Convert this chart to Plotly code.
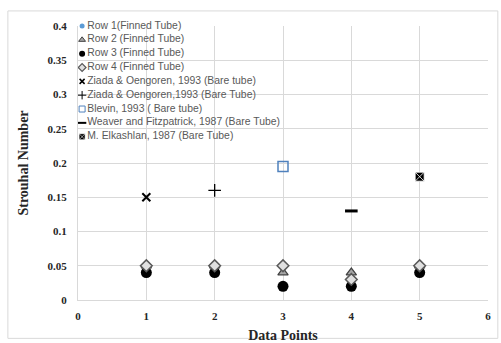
import plotly.graph_objects as go

points = [1, 2, 3, 4, 5]
row1 = [0.04, 0.04, 0.02, 0.02, 0.04]
row2 = [0.05, 0.05, 0.04, 0.04, 0.05]
row3 = [0.04, 0.04, 0.02, 0.02, 0.04]
row4 = [0.05, 0.05, 0.05, 0.03, 0.05]

ziada_x = [1]; ziada_y = [0.15]
ziada2_x = [2]; ziada2_y = [0.16]
blevin_x = [3]; blevin_y = [0.195]
weaver_x = [4]; weaver_y = [0.13]
elk_x = [5]; elk_y = [0.18]

x_ticks = [0, 1, 2, 3, 4, 5, 6]
y_ticks = [0, 0.05, 0.1, 0.15, 0.2, 0.25, 0.3, 0.35, 0.4]
y_tick_text = ["0", "0.05", "0.1", "0.15", "0.2", "0.25", "0.3", "0.35", "0.4"]

names = ["Row 1(Finned Tube)", "Row 2 (Finned Tube)", "Row 3 (Finned Tube)",
         "Row 4 (Finned Tube)", "Ziada & Oengoren, 1993 (Bare tube)",
         "Ziada & Oengoren,1993 (Bare Tube)", "Blevin, 1993 ( Bare tube)",
         "Weaver and Fitzpatrick, 1987 (Bare Tube)", "M. Elkashlan, 1987 (Bare Tube)"]

styles = [
    dict(symbol="circle", color="#5b9bd5", line=dict(color="#5b9bd5", width=0)),
    dict(symbol="triangle-up", color="#a6a6a6", line=dict(color="#404040", width=1.2)),
    dict(symbol="circle", color="#000000", line=dict(color="#000000", width=0)),
    dict(symbol="diamond", color="#e0e0e0", line=dict(color="#595959", width=1.5)),
    dict(symbol="x-thin", color="#000000", line=dict(color="#000000", width=2)),
    dict(symbol="cross-thin", color="#000000", line=dict(color="#000000", width=1.3)),
    dict(symbol="square-open", color="#4f81bd", line=dict(color="#4f81bd", width=1.5)),
    dict(symbol="line-ew", color="#000000", line=dict(color="#000000", width=3)),
    dict(symbol="square-x", color="#000000", line=dict(color="#ffffff", width=0.8)),
]
sizes = [8, 9, 11, 9, 8, 9, 10, 9, 9]
legend_sizes = [5, 6, 6, 6, 5, 6, 6, 6, 6]
legend_lw = [0, 1, 0, 1.2, 1.5, 1, 1, 2, 0.6]

series = [(points, row1), (points, row2), (points, row3), (points, row4),
          (ziada_x, ziada_y), (ziada2_x, ziada2_y), (blevin_x, blevin_y),
          (weaver_x, weaver_y), (elk_x, elk_y)]

fig = go.Figure()
for i, (xs, ys) in enumerate(series):
    st = styles[i]
    fig.add_trace(go.Scatter(
        x=xs, y=ys, mode="markers", name=names[i], showlegend=False,
        marker=dict(symbol=st["symbol"], color=st["color"], size=sizes[i], line=st["line"]),
        cliponaxis=False))

# compact Excel-style legend drawn in the plot area
leg_mx = 0.06
leg_tx = 0.135
leg_y0 = 0.4
leg_step = 0.0202
for i in range(len(names)):
    st = styles[i]
    yy = leg_y0 - i * leg_step
    fig.add_trace(go.Scatter(
        x=[leg_mx], y=[yy], mode="markers", showlegend=False, hoverinfo="skip",
        marker=dict(symbol=st["symbol"], color=st["color"], size=legend_sizes[i],
                    line=dict(color=st["line"]["color"], width=legend_lw[i])),
        cliponaxis=False))
    fig.add_trace(go.Scatter(
        x=[leg_tx], y=[yy], mode="text", text=[names[i]], textposition="middle right",
        showlegend=False, hoverinfo="skip",
        textfont=dict(family="Liberation Sans", size=10.4, color="#595959"),
        cliponaxis=False))

fig.update_xaxes(range=[0, 6], tickvals=x_ticks, showgrid=True, gridcolor="#d9d9d9",
                 gridwidth=1, zeroline=False, showline=True, linecolor="#d9d9d9",
                 ticks="outside", ticklen=6, tickcolor="rgba(0,0,0,0)", automargin=False,
                 tickfont=dict(family="Liberation Serif", size=11, color="#262626", weight="bold"),
                 title=dict(text="<b>Data Points</b>",
                            font=dict(family="Liberation Serif", size=14, color="#262626")))
fig.update_yaxes(range=[0, 0.4], tickvals=y_ticks, ticktext=y_tick_text, showgrid=True,
                 gridcolor="#d9d9d9", gridwidth=1, zeroline=False, showline=True,
                 linecolor="#d9d9d9", ticks="outside", ticklen=8, tickcolor="rgba(0,0,0,0)",
                 automargin=False,
                 tickfont=dict(family="Liberation Serif", size=11, color="#262626", weight="bold"),
                 title=dict(text="<b>Strouhal Number</b>",
                            font=dict(family="Liberation Serif", size=14, color="#262626")))

fig.add_shape(type="rect", xref="paper", yref="paper", x0=-0.171, x1=1.024, y0=-0.14, y1=1.055,
              line=dict(color="#d9d9d9", width=1))

fig.update_layout(width=501, height=343, margin=dict(l=78, r=13, t=26, b=43),
                  plot_bgcolor="white", paper_bgcolor="white", showlegend=False)

fig.write_html("out.html", config={"displayModeBar": False},
               post_script="document.body.style.margin='0';document.body.style.overflow='hidden';")
